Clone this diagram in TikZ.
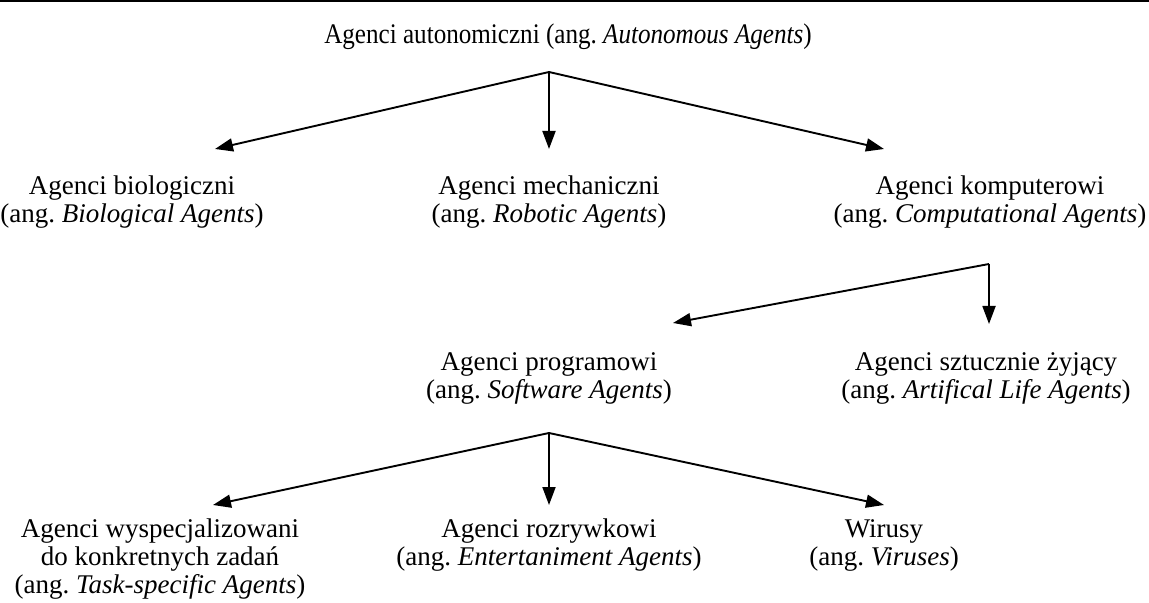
\documentclass[tikz,border=0pt]{standalone}
\usepackage{fontspec}
\setmainfont{Liberation Serif}
\usetikzlibrary{arrows.meta}
\frenchspacing
\begin{document}
\begin{tikzpicture}[x=0.5pt,y=-0.5pt,
  lbl/.style={align=center,inner sep=0pt,font=\fontsize{13.5}{14}\selectfont},
  conn/.style={line width=0.95pt,-{Triangle[length=9pt,width=6.5pt]}}]
\useasboundingbox (0,0) rectangle (1149,603);
\draw[line width=1pt] (0,1) -- (1149,1);
\node[lbl] (root) at (568,37) {\scalebox{0.93}[1.05]{Agenci autonomiczni (ang. \textit{Autonomous Agents})}};
\coordinate (j1) at (549,72);
\coordinate (t1a) at (215,149);
\coordinate (t1b) at (549,149);
\coordinate (t1c) at (884,149);
\node[lbl] (bio) at (132,202) {Agenci biologiczni\\(ang. \textit{Biological Agents})};
\node[lbl] (mech) at (549,202) {Agenci mechaniczni\\(ang. \textit{Robotic Agents})};
\node[lbl] (comp) at (990,202) {Agenci komputerowi\\(ang. \textit{Computational Agents})};
\coordinate (j2) at (989,264);
\coordinate (t2a) at (673,323);
\coordinate (t2b) at (989,324);
\node[lbl] (soft) at (549,378) {Agenci programowi\\(ang. \textit{Software Agents})};
\node[lbl] (alife) at (986,378) {Agenci sztucznie żyjący\\(ang. \textit{Artifical Life Agents})};
\coordinate (j3) at (549,433);
\coordinate (t3a) at (213,505);
\coordinate (t3b) at (549,505);
\coordinate (t3c) at (884,505);
\node[lbl] (task) at (160,559) {Agenci wyspecjalizowani\\do konkretnych zadań\\(ang. \textit{Task-specific Agents})};
\node[lbl] (ent) at (549,545) {Agenci rozrywkowi\\(ang. \textit{Entertaniment Agents})};
\node[lbl] (vir) at (884,545) {Wirusy\\(ang. \textit{Viruses})};
\draw[conn] (j1) -- (t1a);
\draw[conn] (j1) -- (t1b);
\draw[conn] (j1) -- (t1c);
\draw[conn] (j2) -- (t2a);
\draw[conn] (j2) -- (t2b);
\draw[conn] (j3) -- (t3a);
\draw[conn] (j3) -- (t3b);
\draw[conn] (j3) -- (t3c);
\end{tikzpicture}
\end{document}
